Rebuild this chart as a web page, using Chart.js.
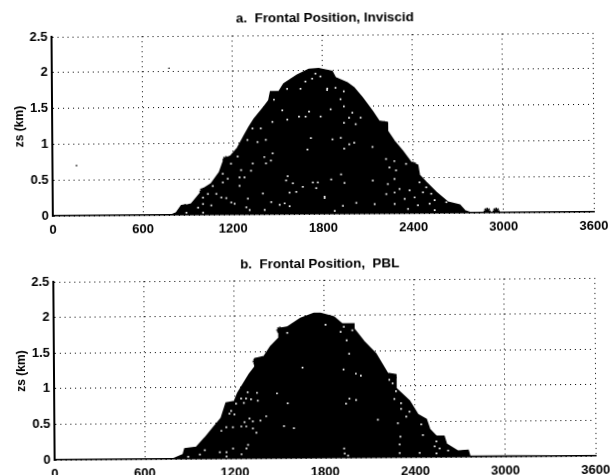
<!DOCTYPE html>
<html><head><meta charset="utf-8">
<script src="https://cdn.jsdelivr.net/npm/chart.js@4"></script>
<style>
html,body{margin:0;padding:0;background:#fff;width:611px;height:475px;overflow:hidden}
#w{position:absolute;left:0;top:0;width:611px;height:475px;transform:rotate(-0.42deg);transform-origin:305px 237px}
canvas{position:absolute;left:0}
#c1{top:0}#c2{top:244px}
</style></head><body><div id="w">
<canvas id="c1" width="611" height="240"></canvas>
<canvas id="c2" width="611" height="240"></canvas>
</div>
<script>
const xTicks=[0,600,1200,1800,2400,3000,3600];
const yTicks=[0,0.5,1,1.5,2,2.5];
const titleA="a.  Frontal Position, Inviscid";
const titleB="b.  Frontal Position,  PBL";
const yLabel="zs (km)";

const profileA=[[0,0],[790,0],[822,0.03],[856,0.13],[900,0.14],[922,0.15],[978,0.29],[1000,0.36],[1055,0.43],[1111,0.59],[1144,0.78],[1188,0.82],[1233,0.93],[1277,1.1],[1310,1.22],[1344,1.33],[1410,1.5],[1443,1.59],[1455,1.71],[1510,1.71],[1543,1.82],[1632,1.94],[1710,2.02],[1776,2.03],[1865,1.99],[1887,1.9],[1965,1.83],[2009,1.76],[2064,1.62],[2131,1.43],[2175,1.29],[2231,1.27],[2231,1.15],[2275,1.01],[2330,0.87],[2386,0.71],[2430,0.67],[2441,0.53],[2486,0.43],[2552,0.29],[2630,0.15],[2708,0.11],[2741,0.03],[2780,0],[3600,0]];
const markersA=[[880,0.1],[1000,0.33],[1155,0.77],[1480,1.67],[2211,1.24],[2400,0.67],[2690,0.06],[2890,0.02],[2950,0.02]];
const specksA=[[1687,1.85],[1732,1.89],[1787,1.92],[1754,1.96],[1832,1.75],[1654,1.75],[1565,1.75],[1477,1.6],[1532,1.45],[1710,1.43],[1787,1.36],[1687,1.36],[1643,1.36],[1565,1.32],[1466,1.29],[1333,1.2],[1388,1.2],[1299,1.04],[1366,1.01],[1421,1.04],[1721,1.06],[1698,0.9],[1466,0.85],[1410,0.8],[1454,0.75],[1421,0.71],[1333,0.71],[1321,0.61],[1233,0.81],[1188,0.71],[1255,0.62],[1244,0.52],[1277,0.52],[1133,0.57],[1166,0.5],[1133,0.45],[1244,0.4],[1066,0.4],[1565,0.53],[1554,0.47],[1732,0.44],[1765,0.44],[1754,0.36],[1599,0.43],[1665,0.38],[1621,0.31],[1576,0.3],[1399,0.29],[1000,0.24],[1033,0.29],[1089,0.29],[1122,0.24],[1155,0.23],[1188,0.17],[1210,0.15],[1055,0.13],[1000,0.15],[967,0.1],[1299,0.22],[1288,0.1],[1310,0.06],[1454,0.17],[1510,0.13],[1543,0.15],[1576,0.11],[1410,0.06],[1809,0.24],[1000,0.03],[889,0.03],[1831,1.73],[1887,1.76],[1942,1.71],[1920,1.6],[1942,1.5],[1854,1.46],[1998,1.41],[1976,1.34],[2053,1.34],[1942,1.27],[2020,1.25],[1865,1.04],[1920,1.06],[1976,0.97],[1942,0.91],[2009,0.99],[2131,0.93],[2220,0.76],[2275,0.73],[2242,0.64],[2286,0.6],[2353,0.69],[1920,0.55],[2131,0.46],[1942,0.43],[1854,0.48],[2275,0.48],[2231,0.41],[2308,0.34],[2275,0.29],[2220,0.27],[2342,0.2],[2275,0.13],[2408,0.22],[2375,0.32],[2464,0.29],[2486,0.36],[2519,0.27],[2541,0.18],[2508,0.13],[2430,0.11],[2541,0.04],[2619,0.15],[2364,0.06],[1931,0.11],[1876,0.04],[2142,0.13],[2020,0.15],[1809,0.22],[2441,0.43]];
const strayA=[[160,0.7],[780,2.05]];

const profileB=[[0,0],[789,0],[856,0.06],[867,0.14],[944,0.16],[1000,0.29],[1055,0.43],[1111,0.57],[1144,0.78],[1199,0.8],[1222,0.92],[1299,1.18],[1332,1.27],[1337,1.4],[1399,1.43],[1443,1.57],[1499,1.69],[1499,1.82],[1554,1.84],[1643,1.96],[1732,2.03],[1776,2.03],[1865,1.98],[1920,1.88],[1998,1.88],[1998,1.81],[2064,1.63],[2142,1.46],[2220,1.18],[2275,1.16],[2275,0.97],[2364,0.79],[2419,0.6],[2475,0.53],[2497,0.39],[2541,0.29],[2592,0.29],[2608,0.18],[2685,0.08],[2752,0.09],[2763,0.01],[3600,0]];
const markersB=[[1505,1.8],[1345,1.36],[2255,1.12],[2725,0.05]];
const specksB=[[1554,1.76],[1654,1.27],[1483,0.91],[1554,0.77],[1350,0.92],[1288,0.93],[1244,0.84],[1277,0.84],[1262,0.78],[1310,0.83],[1355,0.81],[1210,0.77],[1177,0.67],[1166,0.63],[1199,0.62],[1410,0.59],[1299,0.56],[1266,0.51],[1321,0.52],[1372,0.53],[1244,0.45],[1277,0.45],[1321,0.42],[1344,0.36],[1188,0.44],[1144,0.44],[1111,0.39],[1528,0.45],[1594,0.42],[1288,0.19],[1277,0.14],[1188,0.14],[1144,0.09],[1100,0.09],[1000,0.12],[1244,0.06],[1144,0.03],[889,0.03],[967,0.06],[1809,1.87],[1931,1.84],[1987,1.79],[1909,1.77],[1949,1.65],[1965,1.46],[1927,1.24],[2009,1.18],[2042,1.15],[1965,0.83],[2009,0.81],[1942,0.76],[2153,0.53],[2231,1.09],[2253,1.04],[2275,0.93],[2264,0.82],[2308,0.76],[2308,0.68],[2364,0.64],[2342,0.57],[2286,0.48],[2441,0.46],[2452,0.31],[2541,0.22],[2530,0.15],[2563,0.12],[2541,0.05],[2619,0.09],[2302,0.29],[2297,0.18],[2297,0.06],[2430,0.06],[1927,0.13],[1931,0.06],[1953,0.03]];
const strayB=[];

const pts=a=>a.map(p=>({x:p[0],y:p[1]}));
const FF='"Liberation Sans",Arial,sans-serif';
function make(id,title,profile,markers,specks,stray,padTop,titleGap,titleShift){
  const centerTitle={id:'centerTitle',afterLayout(c){c.titleBlock.left=c.chartArea.left+titleShift;c.titleBlock.right=c.chartArea.right+titleShift;}};
  new Chart(document.getElementById(id),{
    type:'scatter',
    plugins:[centerTitle],
    data:{datasets:[
      {data:pts(specks),order:1,pointStyle:'rect',pointRadius:1.2,backgroundColor:'#fff',borderColor:'#fff',borderWidth:0,showLine:false},
      {data:pts(markers),order:2,pointStyle:'star',pointRadius:3.5,borderWidth:1.5,borderColor:'#000',backgroundColor:'#000',showLine:false},
      {data:pts(stray),order:3,pointRadius:0.8,backgroundColor:'#000',borderWidth:0,showLine:false},
      {data:pts(profile),order:4,showLine:true,fill:'origin',backgroundColor:'#000',borderColor:'#000',borderWidth:1.5,pointRadius:0,tension:0}
    ]},
    options:{
      responsive:false,animation:false,devicePixelRatio:1,
      layout:{padding:{top:padTop,right:17,left:0,bottom:0}},
      plugins:{legend:{display:false},tooltip:{enabled:false},
        title:{display:true,text:title,color:'#000',font:{family:FF,size:13.4,weight:'bold'},padding:{top:0,bottom:titleGap}}},
      scales:{
        x:{type:'linear',min:xTicks[0],max:xTicks[xTicks.length-1],
          afterBuildTicks:s=>{s.ticks=xTicks.map(v=>({value:v}))},
          afterFit:s=>{s.height=26;s.paddingLeft=0;s.paddingRight=0;},
          grid:{color:'#000',lineWidth:1,drawTicks:false},
          border:{display:true,color:'#000',width:1.5,dash:[1,4]},
          ticks:{color:'#000',padding:7,maxRotation:0,autoSkip:false,font:{family:FF,size:13,weight:'bold'},callback:v=>String(v)}},
        y:{type:'linear',min:yTicks[0],max:yTicks[yTicks.length-1],
          afterBuildTicks:s=>{s.ticks=yTicks.map(v=>({value:v}))},
          afterFit:s=>{s.width=53},
          grid:{color:'#000',lineWidth:1,drawTicks:false},
          border:{display:true,color:'#000',width:2,dash:[1,4]},
          title:{display:true,text:yLabel,color:'#000',font:{family:FF,size:12,weight:'bold'},padding:{top:13,bottom:0}},
          ticks:{color:'#000',padding:4,autoSkip:false,font:{family:FF,size:13,weight:'bold'},callback:v=>String(v)}}
      }
    }
  });
}
make('c1',titleA,profileA,markersA,specksA,strayA,10,9,3);
make('c2',titleB,profileB,markersB,specksB,strayB,12,8,-4);
</script></body></html>
